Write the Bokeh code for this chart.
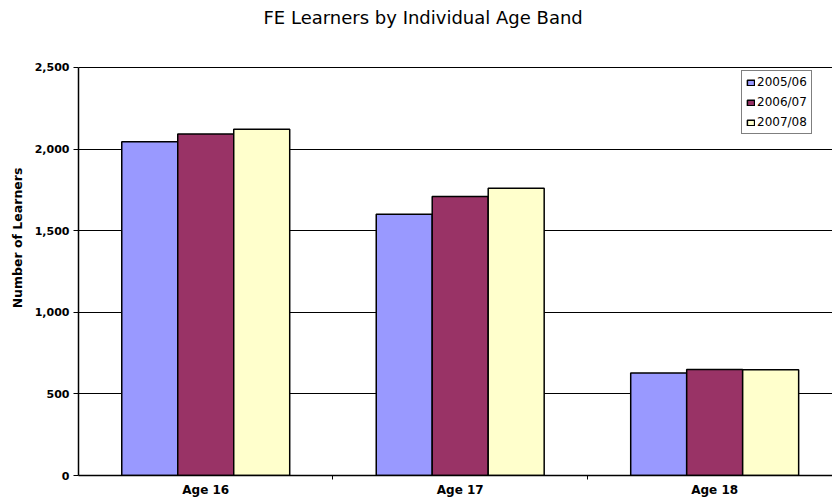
from bokeh.plotting import figure
from bokeh.models import (ColumnDataSource, FixedTicker, NumeralTickFormatter,
                          Legend, LegendItem, Label)
from bokeh.embed import file_html
from bokeh.resources import INLINE

title_text = "FE Learners by Individual Age Band"
y_title = "Number of Learners"
categories = ["Age 16", "Age 17", "Age 18"]
years = ["2005/06", "2006/07", "2007/08"]
v_2005 = [2045, 1600, 628]
v_2006 = [2092, 1710, 650]
v_2007 = [2122, 1760, 648]
colors = ["#9999FF", "#993366", "#FFFFCC"]
y_ticks = [0, 500, 1000, 1500, 2000, 2500]

series = [v_2005, v_2006, v_2007]
offsets = [-0.22, 0.0, 0.22]
bar_w = 0.22

# frame runs to the top of the canvas so the title label sits inside it;
# the axis is bounded to 0..2500 like the reference
p = figure(width=832, height=500, output_backend="svg", toolbar_location=None,
           x_range=(0, 2.963), y_range=(0, 2910),
           min_border_left=78, min_border_right=0, min_border_top=0,
           min_border_bottom=25)
p.outline_line_color = None
p.background_fill_color = "white"

items = []
for vals, off, col, yr in zip(series, offsets, colors, years):
    xs = [i + 0.5 + off for i in range(len(categories))]
    src = ColumnDataSource(dict(x=xs, top=vals))
    r = p.vbar(x="x", top="top", width=bar_w, source=src, fill_color=col,
               line_color="black", line_width=1.5)
    items.append(LegendItem(label=yr, renderers=[r]))

# Grid
p.xgrid.grid_line_color = None
p.ygrid.grid_line_color = "black"
p.ygrid.grid_line_width = 1.2
p.ygrid.ticker = FixedTicker(ticks=y_ticks)

# Y axis
p.yaxis.ticker = FixedTicker(ticks=y_ticks)
p.yaxis.bounds = (y_ticks[0], y_ticks[-1])
p.yaxis.formatter = NumeralTickFormatter(format="0,0")
p.yaxis.axis_line_color = "black"
p.yaxis.axis_line_width = 1.5
p.yaxis.major_tick_out = 5
p.yaxis.major_tick_in = 0
p.yaxis.minor_tick_line_color = None
p.yaxis.major_label_standoff = 4
p.yaxis.major_label_text_font = "DejaVu Sans"
p.yaxis.major_label_text_font_size = "11px"
p.yaxis.major_label_text_font_style = "bold"
p.yaxis.major_label_text_color = "black"
p.yaxis.axis_label = y_title
p.yaxis.axis_label_text_font = "DejaVu Sans"
p.yaxis.axis_label_text_font_size = "12.5px"
p.yaxis.axis_label_text_font_style = "bold"
p.yaxis.axis_label_text_color = "black"
p.yaxis.axis_label_standoff = 7

# X axis
p.xaxis.ticker = FixedTicker(ticks=[0.5, 1.5, 2.5], minor_ticks=[1, 2])
p.xaxis.major_label_overrides = {0.5: categories[0], 1.5: categories[1], 2.5: categories[2]}
p.xaxis.major_tick_line_color = None
p.xaxis.major_tick_out = 0
p.xaxis.major_tick_in = 0
p.xaxis.minor_tick_out = 4
p.xaxis.minor_tick_in = 0
p.xaxis.minor_tick_line_color = "black"
p.xaxis.axis_line_color = "black"
p.xaxis.axis_line_width = 1.5
p.xaxis.major_label_standoff = 3
p.xaxis.major_label_text_font = "DejaVu Sans"
p.xaxis.major_label_text_font_size = "12px"
p.xaxis.major_label_text_font_style = "bold"
p.xaxis.major_label_text_color = "black"

# Title (screen units, measured from the frame's bottom-left corner)
title = Label(x=185, y=458, x_units="screen", y_units="screen", text=title_text,
              text_font="DejaVu Sans", text_font_size="18px", text_color="black",
              text_align="left", text_baseline="middle")
p.add_layout(title)

legend = Legend(items=items, location=(663, 341), orientation="vertical",
                border_line_color="black", border_line_width=1.5,
                background_fill_color="white", background_fill_alpha=1,
                label_text_font="DejaVu Sans", label_text_font_size="12px",
                label_text_color="black",
                glyph_width=9, glyph_height=7, label_height=14, spacing=6,
                padding=4, label_standoff=2, margin=0)
p.add_layout(legend)

open("out.html", "w").write(file_html(p, INLINE))
